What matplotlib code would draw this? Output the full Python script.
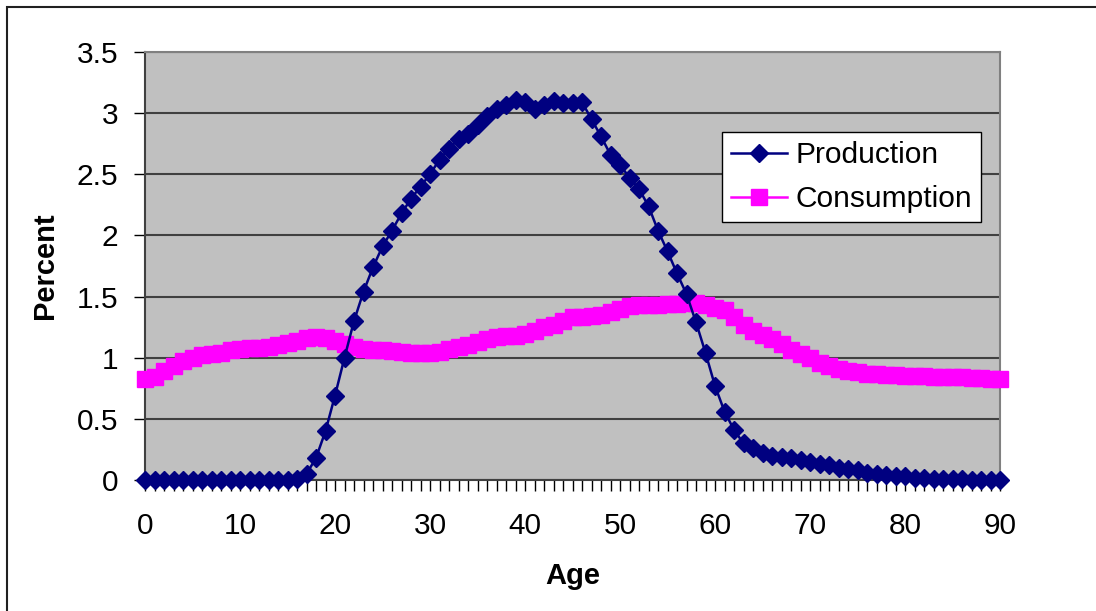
import matplotlib.pyplot as plt
import numpy as np
from matplotlib.patches import Rectangle
from matplotlib.ticker import MultipleLocator

plt.rcParams['font.family'] = ['Liberation Sans', 'DejaVu Sans']

ages = np.arange(0, 91)

production = [
    0, 0, 0, 0, 0, 0, 0, 0, 0, 0,
    0, 0, 0, 0, 0, 0, 0.01, 0.05, 0.18, 0.40,
    0.69, 1.00, 1.30, 1.54, 1.74, 1.91, 2.04, 2.18, 2.30, 2.40,
    2.50, 2.62, 2.71, 2.79, 2.83, 2.90, 2.98, 3.03, 3.07, 3.11,
    3.09, 3.03, 3.07, 3.10, 3.08, 3.08, 3.09, 2.95, 2.81, 2.66,
    2.58, 2.47, 2.38, 2.24, 2.04, 1.87, 1.69, 1.52, 1.29, 1.04,
    0.77, 0.56, 0.41, 0.30, 0.26, 0.22, 0.20, 0.19, 0.18, 0.16,
    0.15, 0.13, 0.12, 0.10, 0.09, 0.08, 0.06, 0.05, 0.04, 0.03,
    0.03, 0.02, 0.02, 0.01, 0.01, 0.01, 0.01, 0.0, 0.0, 0.0,
    0.0,
]

consumption = [
    0.83, 0.845, 0.89, 0.93, 0.97, 1.00, 1.02, 1.03, 1.04, 1.06,
    1.07, 1.08, 1.08, 1.085, 1.10, 1.12, 1.14, 1.16, 1.17, 1.16,
    1.14, 1.11, 1.09, 1.07, 1.065, 1.06, 1.055, 1.05, 1.04, 1.035,
    1.035, 1.05, 1.07, 1.085, 1.10, 1.125, 1.15, 1.17, 1.175, 1.18,
    1.19, 1.215, 1.25, 1.27, 1.30, 1.33, 1.33, 1.34, 1.35, 1.37,
    1.40, 1.425, 1.43, 1.435, 1.435, 1.44, 1.44, 1.445, 1.445, 1.435,
    1.41, 1.39, 1.335, 1.27, 1.22, 1.185, 1.15, 1.11, 1.065, 1.03,
    1.00, 0.96, 0.93, 0.91, 0.895, 0.88, 0.87, 0.865, 0.86, 0.855,
    0.853, 0.85, 0.85, 0.845, 0.845, 0.84, 0.84, 0.835, 0.835, 0.83,
    0.83,
]

y_labels = ['0', '0.5', '1', '1.5', '2', '2.5', '3', '3.5']

fig = plt.figure(figsize=(10.96, 6.11), dpi=100)
# chart border (only top and left edges fall inside the picture)
fig.patches.append(Rectangle((7 / 1096, -0.1), 1.2, (611 - 6.5) / 611 + 0.1,
                             transform=fig.transFigure, fill=False,
                             edgecolor='#202020', linewidth=1.5))

ax = fig.add_axes([145 / 1096, (611 - 480) / 611, 855 / 1096, 428 / 611])
ax.set_facecolor('#C0C0C0')

ax.plot(ages, production, color='#000080', linewidth=1.8, marker='D',
        markersize=9, label='Production', zorder=4, clip_on=False)
ax.plot(ages, consumption, color='#FF00FF', linewidth=1.8, marker='s',
        markersize=11, label='Consumption', zorder=3, clip_on=False)

ax.set_xlim(0, 90)
ax.set_ylim(0, 3.5)
ax.xaxis.set_major_locator(MultipleLocator(10))
ax.xaxis.set_minor_locator(MultipleLocator(1))
ax.set_yticks(np.arange(0, 3.51, 0.5))
ax.set_yticklabels(y_labels)

ax.grid(axis='y', color='#404040', linewidth=1.5, zorder=1)
ax.set_axisbelow(True)

ax.tick_params(axis='x', which='both', direction='out', length=8, width=1,
               labelsize=21.5, pad=15)
ax.tick_params(axis='y', direction='out', length=8, width=1,
               labelsize=21.5, pad=11)

for side in ['top', 'right']:
    ax.spines[side].set_color('#808080')
    ax.spines[side].set_linewidth(1.5)
for side in ['left', 'bottom']:
    ax.spines[side].set_color('#404040')
    ax.spines[side].set_linewidth(1.5)

ax.set_xlabel('Age', fontsize=21, fontweight='bold')
ax.set_ylabel('Percent', fontsize=21, fontweight='bold')
ax.xaxis.set_label_coords(0.5, (480 - 576) / 428)
ax.xaxis.label.set_va('center')
ax.yaxis.set_label_coords((45 - 145) / 855, 0.5)
ax.yaxis.label.set_va('center')

leg = ax.legend(loc='upper right', bbox_to_anchor=(0.978, 0.813),
                fontsize=21.5, frameon=True, fancybox=False, framealpha=1,
                edgecolor='black', borderpad=0.3, handlelength=1.85,
                handletextpad=0.3, labelspacing=0.55, borderaxespad=0)
leg.get_frame().set_linewidth(1.0)

fig.savefig('out.png', dpi=100)
